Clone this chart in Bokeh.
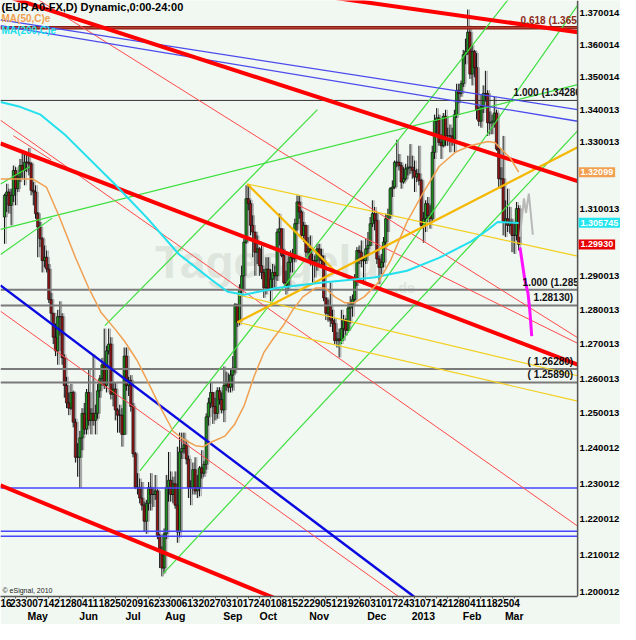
import numpy as np
from bokeh.plotting import figure
from bokeh.models import FixedTicker, LinearAxis, Label, Range1d, Span
from bokeh.core.properties import value
from bokeh.embed import file_html
from bokeh.resources import INLINE

# ---------------- data (trading-day index 0 = Mon 16 Apr 2012) ----------------
week_tick_labels = ["16", "23", "30", "07", "14", "21", "28", "04", "11", "18", "25", "02", "09", "16",
                    "23", "30", "06", "13", "20", "27", "03", "10", "17", "24", "01", "08", "15", "22",
                    "29", "05", "12", "19", "26", "03", "10", "17", "24", "31", "07", "14", "21", "28",
                    "04", "11", "18", "25", "04"]
week_tick_days = [5 * i for i in range(len(week_tick_labels))]
month_labels = ["May", "Jun", "Jul", "Aug", "Sep", "Oct", "Nov", "Dec", "2013", "Feb", "Mar"]
month_label_days = [15, 38, 58, 77, 103, 119, 142, 168, 189, 211, 230]

price_ticks = [1.200012, 1.210012, 1.220012, 1.230012, 1.240012, 1.250013, 1.260013, 1.270013,
               1.280013, 1.290013, 1.310013, 1.330013, 1.340013, 1.350014, 1.360014, 1.370014]

first_open = 1.3075
closes = [
    1.3140, 1.3150, 1.3110, 1.3140, 1.3215, 1.3160, 1.3195, 1.3230, 1.3215, 1.3240,
    1.3240, 1.3235, 1.3155, 1.3150, 1.3085, 1.3045, 1.3010, 1.2945, 1.2955, 1.2920,
    1.2830, 1.2790, 1.2720, 1.2680, 1.2780, 1.2780, 1.2660, 1.2580, 1.2530, 1.2515,
    1.2560, 1.2475, 1.2375, 1.2375, 1.2430, 1.2500, 1.2455, 1.2560, 1.2480, 1.2500,
    1.2480, 1.2500, 1.2565, 1.2600, 1.2640, 1.2580, 1.2680, 1.2700, 1.2555, 1.2570,
    1.2510, 1.2495, 1.2495, 1.2440, 1.2665, 1.2580, 1.2595, 1.2520, 1.2385, 1.2290,
    1.2290, 1.2260, 1.2240, 1.2195, 1.2245, 1.2290, 1.2270, 1.2270, 1.2280, 1.2155,
    1.2110, 1.2065, 1.2160, 1.2290, 1.2310, 1.2270, 1.2300, 1.2240, 1.2165, 1.2390,
    1.2400, 1.2410, 1.2370, 1.2290, 1.2290, 1.2340, 1.2280, 1.2290, 1.2345, 1.2330,
    1.2355, 1.2490, 1.2530, 1.2560, 1.2520, 1.2500, 1.2565, 1.2540, 1.2510, 1.2580,
    1.2590, 1.2575, 1.2610, 1.2630, 1.2815, 1.2765, 1.2860, 1.2900, 1.3000, 1.3130,
    1.3115, 1.3050, 1.3030, 1.2970, 1.2980, 1.2930, 1.2910, 1.2865, 1.2920, 1.2860,
    1.2890, 1.2910, 1.2900, 1.3030, 1.3040, 1.2960, 1.2880, 1.2870, 1.2940, 1.2955,
    1.2950, 1.3055, 1.3120, 1.3090, 1.3020, 1.3050, 1.2970, 1.2980, 1.2945, 1.2940,
    1.2945, 1.2980, 1.2960, 1.2945, 1.2835, 1.2790, 1.2810, 1.2770, 1.2760, 1.2710,
    1.2715, 1.2710, 1.2745, 1.2770, 1.2740, 1.2805, 1.2815, 1.2830, 1.2890, 1.2975,
    1.2970, 1.2945, 1.2945, 1.2980, 1.2990, 1.3055, 1.3085, 1.3065, 1.2950, 1.2925,
    1.2940, 1.3000, 1.3070, 1.3080, 1.3160, 1.3165, 1.3240, 1.3240, 1.3230, 1.3180,
    1.3190, 1.3220, 1.3225, 1.3225, 1.3215, 1.3195, 1.3205, 1.3185, 1.3050, 1.3070,
    1.3115, 1.3080, 1.3070, 1.3270, 1.3365, 1.3375, 1.3300, 1.3290, 1.3380, 1.3320,
    1.3320, 1.3320, 1.3310, 1.3385, 1.3460, 1.3450, 1.3480, 1.3570, 1.3580, 1.3640,
    1.3510, 1.3580, 1.3530, 1.3400, 1.3365, 1.3410, 1.3450, 1.3450, 1.3360, 1.3360,
    1.3365, 1.3390, 1.3280, 1.3190, 1.3190, 1.3060, 1.3070, 1.3050, 1.3060, 1.3020,
    1.3020, 1.3100, 1.2993]
highs = [
    1.3145, 1.3175, 1.3160, 1.3160, 1.3230, 1.3225, 1.3205, 1.3250, 1.3265, 1.3265,
    1.3270, 1.3283, 1.3240, 1.3180, 1.3170, 1.3090, 1.3060, 1.3015, 1.2990, 1.2975,
    1.2935, 1.2850, 1.2790, 1.2760, 1.2800, 1.2825, 1.2790, 1.2670, 1.2605, 1.2560,
    1.2585, 1.2565, 1.2485, 1.2415, 1.2450, 1.2515, 1.2530, 1.2570, 1.2625, 1.2515,
    1.2670, 1.2525, 1.2585, 1.2610, 1.2660, 1.2745, 1.2695, 1.2745, 1.2720, 1.2590,
    1.2590, 1.2515, 1.2525, 1.2515, 1.2690, 1.2690, 1.2605, 1.2610, 1.2530, 1.2390,
    1.2330, 1.2315, 1.2305, 1.2250, 1.2255, 1.2305, 1.2330, 1.2290, 1.2325, 1.2285,
    1.2160, 1.2125, 1.2175, 1.2325, 1.2390, 1.2335, 1.2320, 1.2335, 1.2405, 1.2445,
    1.2445, 1.2445, 1.2425, 1.2380, 1.2310, 1.2360, 1.2375, 1.2325, 1.2350, 1.2395,
    1.2365, 1.2500, 1.2545, 1.2590, 1.2560, 1.2545, 1.2575, 1.2575, 1.2560, 1.2635,
    1.2620, 1.2615, 1.2625, 1.2665, 1.2820, 1.2815, 1.2875, 1.2930, 1.3010, 1.3170,
    1.3172, 1.3125, 1.3080, 1.3030, 1.3020, 1.2985, 1.2990, 1.2920, 1.2955, 1.2955,
    1.2920, 1.2935, 1.2930, 1.3040, 1.3085, 1.3010, 1.2980, 1.2915, 1.2960, 1.2975,
    1.2980, 1.3070, 1.3140, 1.3140, 1.3095, 1.3060, 1.3050, 1.3015, 1.3020, 1.2965,
    1.2960, 1.2995, 1.2995, 1.2980, 1.2960, 1.2835, 1.2830, 1.2880, 1.2800, 1.2775,
    1.2735, 1.2745, 1.2800, 1.2785, 1.2775, 1.2820, 1.2840, 1.2845, 1.2905, 1.2985,
    1.2990, 1.3005, 1.2955, 1.3010, 1.3030, 1.3075, 1.3125, 1.3105, 1.3090, 1.2960,
    1.2965, 1.3015, 1.3085, 1.3100, 1.3165, 1.3185, 1.3245, 1.3308, 1.3265, 1.3240,
    1.3225, 1.3235, 1.3260, 1.3295, 1.3260, 1.3245, 1.3220, 1.3290, 1.3190, 1.3090,
    1.3125, 1.3135, 1.3110, 1.3290, 1.3385, 1.3405, 1.3385, 1.3325, 1.3390, 1.3400,
    1.3345, 1.3355, 1.3345, 1.3400, 1.3480, 1.3480, 1.3490, 1.3585, 1.3620, 1.3711,
    1.3660, 1.3600, 1.3585, 1.3575, 1.3410, 1.3445, 1.3475, 1.3520, 1.3460, 1.3395,
    1.3385, 1.3440, 1.3400, 1.3285, 1.3225, 1.3320, 1.3125, 1.3160, 1.3105, 1.3070,
    1.3055, 1.3120, 1.3110]
lows = [
    1.2995, 1.3090, 1.3085, 1.3050, 1.3120, 1.3110, 1.3150, 1.3180, 1.3190, 1.3170,
    1.3210, 1.3200, 1.3140, 1.3110, 1.3070, 1.2955, 1.2985, 1.2910, 1.2925, 1.2910,
    1.2820, 1.2765, 1.2700, 1.2665, 1.2640, 1.2725, 1.2640, 1.2545, 1.2515, 1.2495,
    1.2510, 1.2460, 1.2360, 1.2320, 1.2288, 1.2395, 1.2440, 1.2440, 1.2465, 1.2440,
    1.2465, 1.2440, 1.2485, 1.2545, 1.2580, 1.2570, 1.2560, 1.2670, 1.2540, 1.2520,
    1.2480, 1.2445, 1.2445, 1.2405, 1.2440, 1.2565, 1.2550, 1.2505, 1.2375, 1.2285,
    1.2270, 1.2245, 1.2225, 1.2165, 1.2160, 1.2225, 1.2225, 1.2235, 1.2255, 1.2145,
    1.2065, 1.2042, 1.2050, 1.2145, 1.2250, 1.2250, 1.2245, 1.2230, 1.2135, 1.2150,
    1.2370, 1.2385, 1.2355, 1.2260, 1.2240, 1.2270, 1.2270, 1.2260, 1.2265, 1.2315,
    1.2320, 1.2340, 1.2465, 1.2515, 1.2470, 1.2480, 1.2485, 1.2525, 1.2500, 1.2475,
    1.2565, 1.2560, 1.2560, 1.2565, 1.2615, 1.2750, 1.2755, 1.2840, 1.2860, 1.2995,
    1.3095, 1.3020, 1.2955, 1.2900, 1.2935, 1.2900, 1.2890, 1.2835, 1.2845, 1.2855,
    1.2825, 1.2860, 1.2865, 1.2885, 1.2990, 1.2955, 1.2875, 1.2845, 1.2855, 1.2910,
    1.2910, 1.2940, 1.3035, 1.3070, 1.3015, 1.3000, 1.2955, 1.2945, 1.2930, 1.2880,
    1.2895, 1.2915, 1.2935, 1.2925, 1.2825, 1.2770, 1.2765, 1.2750, 1.2735, 1.2700,
    1.2690, 1.2661, 1.2700, 1.2710, 1.2725, 1.2740, 1.2760, 1.2780, 1.2825, 1.2870,
    1.2935, 1.2925, 1.2875, 1.2935, 1.2960, 1.2995, 1.3045, 1.3035, 1.2935, 1.2875,
    1.2905, 1.2925, 1.2985, 1.3030, 1.3070, 1.3135, 1.3160, 1.3225, 1.3215, 1.3160,
    1.3175, 1.3185, 1.3200, 1.3205, 1.3190, 1.3150, 1.3180, 1.3170, 1.3040, 1.2998,
    1.3030, 1.3060, 1.3040, 1.3060, 1.3250, 1.3320, 1.3290, 1.3250, 1.3285, 1.3290,
    1.3290, 1.3270, 1.3290, 1.3270, 1.3375, 1.3420, 1.3440, 1.3470, 1.3540, 1.3570,
    1.3495, 1.3475, 1.3500, 1.3370, 1.3350, 1.3345, 1.3390, 1.3425, 1.3320, 1.3325,
    1.3325, 1.3345, 1.3275, 1.3165, 1.3160, 1.3020, 1.3015, 1.3030, 1.3025, 1.2970,
    1.2965, 1.3005, 1.2975]

# moving averages (day, price)
ma50_days = [-1.8, 12.8, 18.9, 24.6, 32.1, 37.8, 43.5, 49.7, 54.1, 59.8, 64.2, 69.9, 76.1, 80.5,
             86.2, 89.7, 93.7, 99.4, 103.8, 108.2, 112.6, 117.0, 121.4, 125.8, 130.2, 134.6, 140.3,
             144.7, 149.1, 153.5, 157.9, 162.3, 168.4, 174.1, 181.6, 188.7, 196.1, 203.6, 210.6,
             218.1, 221.2, 223.8, 228.2, 232.0]
ma50_vals = [1.3189, 1.3189, 1.3165, 1.3078, 1.2953, 1.2867, 1.2793, 1.2745, 1.2709, 1.2653, 1.2597,
             1.2523, 1.2449, 1.2427, 1.2408, 1.2405, 1.2419, 1.2435, 1.2468, 1.2523, 1.2606, 1.2675,
             1.2717, 1.2754, 1.2801, 1.2838, 1.2864, 1.2864, 1.2838, 1.2821, 1.2821, 1.2838, 1.2878,
             1.2944, 1.3060, 1.3145, 1.3227, 1.3271, 1.3291, 1.3303, 1.3300, 1.3282, 1.3253, 1.3210]
ma200_days = [-1.8, 7.0, 16.0, 27.7, 49.7, 64.2, 78.7, 93.7, 100.7, 108.2, 122.7, 144.7, 166.7,
              181.6, 196.1, 210.6, 218.1, 222.5, 232.0]
ma200_vals = [1.3424, 1.3409, 1.3386, 1.3321, 1.3174, 1.3073, 1.2964, 1.2887, 1.2853, 1.2844,
              1.2864, 1.2881, 1.2895, 1.2915, 1.2953, 1.3002, 1.3037, 1.3060, 1.3057]

# projection paths
proj_days = [232.6, 234.4, 235.3, 236.6, 238.4]
proj_vals = [1.3016, 1.3131, 1.3087, 1.3145, 1.3022]
pink_days = [232.6, 234.8, 236.2, 237.0, 237.9]
pink_vals = [1.2984, 1.2887, 1.2850, 1.2801, 1.2723]

# horizontal levels
level_brown = 1.3654
level_black = 1.342865
levels_gray = [1.2859, 1.2813, 1.2628, 1.2589]
levels_blue = [1.2288, 1.2167, 1.2153]

# trend lines: (day1, price1, day2, price2)
thick_red_lines = [(157.9, 1.3739, 258.6, 1.3640), (7.0, 1.3739, 258.6, 1.31827),
                   (-1.76, 1.3297, 258.6, 1.26403), (-1.76, 1.22955, 120.1, 1.19867)]
thin_red_lines = [(-1.76, 1.27957, 138.9, 1.21574), (-1.76, 1.33676, 258.6, 1.21816),
                  (127.1, 1.32618, 259.0, 1.27170)]
thin_red_rays = [(132.4, 1.3111, 259.0, 1.27010)]
thin_red_segs = [(4.0, 1.33206, 21.1, 1.32472)]
blue_thick_lines = [(-1.76, 1.28716, 184.7, 1.19867)]
blue_thin_lines = [(-1.76, 1.36788, 258.6, 1.34003), (-1.76, 1.36607, 258.6, 1.33648)]
green_lines = [(-1.76, 1.30378, 258.6, 1.34776)]
green_rays = [(71.7, 1.20505, 258.6, 1.33353), (61.1, 1.23364, 226.9, 1.37394),
              (150.8, 1.26947, 258.6, 1.37243)]
green_segs = [(45.3, 1.27536, 141.2, 1.34003), (-1.76, 1.31742, 11.4, 1.32265),
              (-1.76, 1.29635, 21.5, 1.30716)]
gold_rays = [(105.1, 1.27636, 258.6, 1.32853)]
gold_segs = [(109.5, 1.31742, 150.0, 1.29081)]
yellow_rays = [(109.5, 1.31742, 258.6, 1.29582), (105.1, 1.28442, 258.6, 1.26081),
               (105.1, 1.27636, 258.6, 1.25351)]

last_ma50, last_ma200, last_close = "1.32099", "1.305745", "1.29930"
tag_values = [1.32099, 1.305745, 1.29930]

# ---------------- figure ----------------
X0, X1 = -1.8, 258.6             # price-chart area
XR = X0 + (X1 - X0) * 636 / 592  # right edge incl. price-label column
Y0, Y1 = 1.19867, 1.37395
BG = "#f1f7f1"
FONT = "Liberation Sans"
tf = value(FONT)

p = figure(width=620, height=624, x_range=Range1d(X0, XR), y_range=Range1d(Y0, Y1),
           y_axis_type="log", y_axis_location=None, output_backend="svg",
           toolbar_location=None, min_border_left=0, min_border_top=0,
           min_border_right=0, min_border_bottom=20)
p.background_fill_color = BG
p.border_fill_color = BG
p.outline_line_color = None
p.grid.visible = False


def ext(d1, p1, d2, p2, left=True, right=True):
    l1, l2 = np.log(p1), np.log(p2)
    s = (l2 - l1) / (d2 - d1)
    xa = X0 if left else d1
    xb = X1 if right else d2
    return [xa, xb], [float(np.exp(l1 + s * (xa - d1))), float(np.exp(l1 + s * (xb - d1)))]


def draw(lines, color, width, left=True, right=True):
    xs, ys = [], []
    for d1, p1, d2, p2 in lines:
        a, b = ext(d1, p1, d2, p2, left, right)
        xs.append(a)
        ys.append(b)
    p.multi_line(xs, ys, line_color=color, line_width=width)


# watermark
p.text(x=[68], y=[1.2865], text=["Tagesgeld"], text_font=tf,
       text_font_size="46px", text_font_style="bold", text_color="#d5ded5", text_alpha=0.7)
p.text(x=[176], y=[1.2842], text=[".de"], text_font=tf,
       text_font_size="14px", text_font_style="bold", text_color="#d5ded5", text_alpha=0.7)

# candles
idx = np.arange(len(closes), dtype=float)
c = np.array(closes)
o = np.concatenate([[first_open], c[:-1]])
h = np.maximum(np.array(highs), np.maximum(o, c))
lo = np.minimum(np.array(lows), np.minimum(o, c))
top = np.maximum(o, c)
bot = np.minimum(o, c)
up = c >= o
sh = 0.75
p.segment(idx + sh, h, idx + sh, lo, line_color="#a8a8a8", line_width=1.2)
p.vbar(x=idx + sh, width=1.0, top=top, bottom=bot, fill_color="#a8a8a8", line_color="#a8a8a8")
p.segment(idx, h, idx, lo, line_color="#111111", line_width=1)
p.vbar(x=idx[up], width=1.0, top=top[up], bottom=bot[up], fill_color="#1c9a1c",
       line_color="#111111", line_width=0.7)
p.vbar(x=idx[~up], width=1.0, top=top[~up], bottom=bot[~up], fill_color="#9a1414",
       line_color="#111111", line_width=0.7)

# horizontal levels
p.multi_line([[X0, X1]] * len(levels_gray), [[v, v] for v in levels_gray],
             line_color="#7a7a7a", line_width=2)
p.multi_line([[X0, X1]] * len(levels_blue), [[v, v] for v in levels_blue],
             line_color="#4646ff", line_width=1.5)
p.line([X0, X1], [level_black, level_black], line_color="#333333", line_width=1)
p.line([X0, X1], [level_brown, level_brown], line_color="#8b1a10", line_width=3.5)
p.line([X0, X1], [level_brown, level_brown], line_color="#c05040", line_width=1)

# trend lines
draw(thin_red_lines, "#ff4a4a", 1)
draw(thin_red_rays, "#ff4a4a", 1, left=False)
draw(thin_red_segs, "#ff4a4a", 1, left=False, right=False)
draw(green_lines, "#3ee03e", 1.2)
draw(green_rays, "#3ee03e", 1.2, left=False)
draw(green_segs, "#3ee03e", 1.2, left=False, right=False)
draw(yellow_rays, "#f2d020", 1.2, left=False)
draw(gold_rays, "#f5b800", 2.2, left=False)
draw(gold_segs, "#f5b800", 2.2, left=False, right=False)
draw(blue_thin_lines, "#4a4aee", 1.3)
draw(blue_thick_lines, "#0a0ae0", 2.5)
draw(thick_red_lines, "#ff0000", 4)

# moving averages
p.line(ma200_days, ma200_vals, line_color="#22e0ee", line_width=2)
p.line(ma50_days, ma50_vals, line_color="#f0a050", line_width=1.5)

# projections
p.line(proj_days, proj_vals, line_color="#b8b8b8", line_width=2)
p.line(pink_days, pink_vals, line_color="#ff10ff", line_width=3)

# level texts (cut at the price column like the original)
level_texts = [("0.618 (1.3654", level_brown, -57, "#8b2a1a"),
               ("1.000 (1.342865", level_black, -64, "#111111"),
               ("1.000 (1.2859", levels_gray[0], -55, "#111111"),
               ("1.28130)", levels_gray[1], -44, "#111111"),
               ("( 1.26280)", levels_gray[2], -50, "#111111"),
               ("( 1.25890)", levels_gray[3], -50, "#111111")]
for txt, lv, xo, col in level_texts:
    p.text(x=[X1], y=[lv], text=[txt], x_offset=xo, y_offset=-2, text_font=tf,
           text_font_size="10px", text_font_style="bold", text_color=col,
           text_baseline="bottom")

# price column (right scale)
p.quad(left=[X1], right=[XR], bottom=[Y0], top=[Y1], fill_color=BG, line_color=None)
p.add_layout(Span(location=X1, dimension="height", line_color="#555555", line_width=1.5))
p.text(x=[X1] * len(price_ticks), y=price_ticks, text=["%.6f" % v for v in price_ticks],
       x_offset=2, text_font=tf, text_font_size="9.5px", text_font_style="bold",
       text_color="#000000", text_baseline="middle")

for txt, val, col in [(last_ma50, tag_values[0], "#f0a050"), (last_ma200, tag_values[1], "#22e5ee"),
                      (last_close, tag_values[2], "#e60000")]:
    p.add_layout(Label(x=X1, y=val, x_offset=1, text=txt, text_font=FONT, text_font_size="9px",
                       text_font_style="bold", text_color="white", text_baseline="middle",
                       background_fill_color=col, padding=2))

# header texts
p.add_layout(Label(x=X0, y=Y1, x_offset=1, y_offset=0, text="(EUR A0-FX,D) Dynamic,0:00-24:00",
                   text_font=FONT, text_font_size="11px", text_font_style="bold",
                   text_color="#000000", text_baseline="top"))
p.add_layout(Label(x=X0, y=Y1, x_offset=1, y_offset=-12, text="MA(50,C)e",
                   text_font=FONT, text_font_size="10px", text_font_style="bold",
                   text_color="#f0a050", text_baseline="top"))
p.add_layout(Label(x=X0, y=Y1, x_offset=1, y_offset=-24, text="MA(200,C)e",
                   text_font=FONT, text_font_size="10px", text_font_style="bold",
                   text_color="#22dfee", text_baseline="top"))
p.add_layout(Label(x=X0, y=Y0, x_offset=2, y_offset=3, text="\u00a9 eSignal, 2010",
                   text_font=FONT, text_font_size="7px", text_color="#222222"))

# date axes
xa = p.xaxis[0]
xa.ticker = FixedTicker(ticks=week_tick_days)
xa.major_label_overrides = {d: s for d, s in zip(week_tick_days, week_tick_labels)}
xa.bounds = (X0, X1)
xa.axis_line_color = "#555555"
xa.axis_line_width = 1.5
xa.major_tick_line_color = "#555555"
xa.major_tick_in = 0
xa.major_tick_out = 2
xa.minor_tick_line_color = None
xa.major_label_standoff = 0
xa.major_label_text_font = FONT
xa.major_label_text_font_size = "10px"
xa.major_label_text_font_style = "bold"
xa.major_label_text_color = "#000000"

ma = LinearAxis(ticker=FixedTicker(ticks=month_label_days),
                major_label_overrides={d: s for d, s in zip(month_label_days, month_labels)},
                axis_line_color=None, major_tick_line_color=None, minor_tick_line_color=None,
                major_tick_out=0, major_label_standoff=0, major_label_text_font=FONT,
                major_label_text_font_size="10.5px", major_label_text_font_style="bold",
                major_label_text_color="#000000")
p.add_layout(ma, "below")

open("out.html", "w").write(file_html(p, INLINE))
